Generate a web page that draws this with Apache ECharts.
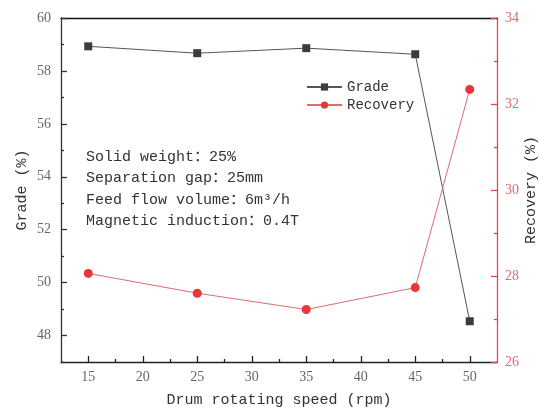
<!DOCTYPE html>
<html>
<head>
<meta charset="utf-8">
<script src="https://cdn.jsdelivr.net/npm/echarts@6/dist/echarts.min.js"></script>
<style>
  html, body { margin: 0; padding: 0; background: #fff; }
  #chart { width: 539px; height: 410px; }
</style>
</head>
<body>
<div id="chart"></div>
<script>
// Drum rotating speed (rpm) and the measured grade / recovery at each speed
const speeds = [15, 25, 35, 45, 50];
const grade = [58.93, 58.67, 58.86, 58.63, 48.54];
const recovery = [28.06, 27.60, 27.22, 27.73, 32.34];

// Tick positions
const xMajorTicks = [15, 20, 25, 30, 35, 40, 45, 50];
const xMinorTicks = [17.5, 22.5, 27.5, 32.5, 37.5, 42.5, 47.5];
const gradeMajorTicks = [48, 50, 52, 54, 56, 58, 60];
const gradeMinorTicks = [47, 49, 51, 53, 55, 57, 59];

const conditions = [
  'Solid weight\uFF1A25%',
  'Separation gap\uFF1A25mm',
  'Feed flow volume\uFF1A6m\u00B3/h',
  'Magnetic induction\uFF1A0.4T'
];

const FONT = '"Liberation Serif", "Noto Sans CJK SC", serif';
const MONO = '"Liberation Mono", "Noto Sans CJK SC", monospace';
const RED = '#e0484e';
const RED_LABEL = '#dd6b6f';
const GRAY_LABEL = '#666';

const chart = echarts.init(document.getElementById('chart'));

chart.setOption({
  animation: false,
  backgroundColor: '#fff',
  grid: { left: 61, right: 42, top: 18, bottom: 48, outerBoundsMode: 'none', containLabel: false },
  legend: {
    orient: 'vertical',
    left: 301,
    top: 75,
    itemWidth: 35,
    itemHeight: 9,
    itemGap: 4,
    textStyle: { fontFamily: MONO, fontSize: 14, color: '#333' },
    data: ['Grade', 'Recovery']
  },
  graphic: [{
    type: 'text',
    left: 86,
    top: 146,
    style: {
      text: conditions.join('\n'),
      font: '15px ' + MONO,
      lineHeight: 21.5,
      fill: '#333'
    }
  }],
  xAxis: [{
    type: 'value',
    min: 12.5,
    max: 52.5,
    name: 'Drum rotating speed (rpm)',
    nameLocation: 'middle',
    nameGap: 31,
    nameMoveOverlap: false,
    nameTextStyle: { fontFamily: MONO, fontSize: 15, color: '#333' },
    axisLine: { lineStyle: { color: '#222', width: 1.3 } },
    axisTick: { inside: true, length: 6, customValues: xMajorTicks, lineStyle: { color: '#222', width: 1.3 } },
    axisLabel: { customValues: xMajorTicks, margin: 8, fontFamily: FONT, fontSize: 14, color: GRAY_LABEL },
    splitLine: { show: false }
  }, {
    type: 'value',
    position: 'bottom',
    min: 12.5,
    max: 52.5,
    axisLine: { show: false },
    axisTick: { inside: true, length: 3, customValues: xMinorTicks, lineStyle: { color: '#222', width: 1.3 } },
    axisLabel: { show: false },
    splitLine: { show: false }
  }, {
    // top frame line
    type: 'value',
    position: 'top',
    min: 12.5,
    max: 52.5,
    axisLine: { lineStyle: { color: '#111', width: 1.3 } },
    axisTick: { show: false },
    axisLabel: { show: false },
    splitLine: { show: false }
  }],
  yAxis: [{
    type: 'value',
    position: 'left',
    min: 47,
    max: 60,
    name: 'Grade (%)',
    nameLocation: 'middle',
    nameGap: 31,
    nameRotate: 90,
    nameMoveOverlap: false,
    nameTextStyle: { fontFamily: MONO, fontSize: 15, color: '#333' },
    axisLine: { show: true, lineStyle: { color: '#333', width: 1.3 } },
    axisTick: { inside: true, length: 6, customValues: gradeMajorTicks, lineStyle: { color: '#333', width: 1.3 } },
    axisLabel: { customValues: gradeMajorTicks, margin: 10, fontFamily: FONT, fontSize: 14, color: GRAY_LABEL },
    splitLine: { show: false }
  }, {
    type: 'value',
    position: 'left',
    min: 47,
    max: 60,
    axisLine: { show: false },
    axisTick: { inside: true, length: 3, customValues: gradeMinorTicks, lineStyle: { color: '#333', width: 1.3 } },
    axisLabel: { show: false },
    splitLine: { show: false }
  }, {
    type: 'value',
    position: 'right',
    min: 26,
    max: 34,
    interval: 2,
    name: 'Recovery (%)',
    nameLocation: 'middle',
    nameGap: 27,
    nameRotate: 90,
    nameMoveOverlap: false,
    nameTextStyle: { fontFamily: MONO, fontSize: 15, color: '#333' },
    axisLine: { show: true, lineStyle: { color: RED, width: 1.3 } },
    axisTick: { inside: true, length: 6, lineStyle: { color: RED, width: 1.3 } },
    minorTick: { show: true, splitNumber: 2, length: 3, lineStyle: { color: RED, width: 1.3 } },
    axisLabel: { margin: 8, fontFamily: FONT, fontSize: 14, color: RED_LABEL },
    splitLine: { show: false }
  }],
  series: [{
    name: 'Grade',
    type: 'line',
    xAxisIndex: 0,
    yAxisIndex: 0,
    data: speeds.map((s, i) => [s, grade[i]]),
    symbol: 'rect',
    symbolSize: 8,
    itemStyle: { color: '#3c3c3c' },
    lineStyle: { color: '#555', width: 1 },
    z: 3
  }, {
    name: 'Recovery',
    type: 'line',
    xAxisIndex: 0,
    yAxisIndex: 2,
    data: speeds.map((s, i) => [s, recovery[i]]),
    symbol: 'circle',
    symbolSize: 9,
    itemStyle: { color: '#e8363c' },
    lineStyle: { color: '#e06a6e', width: 1 },
    z: 3
  }]
});
</script>
</body>
</html>
